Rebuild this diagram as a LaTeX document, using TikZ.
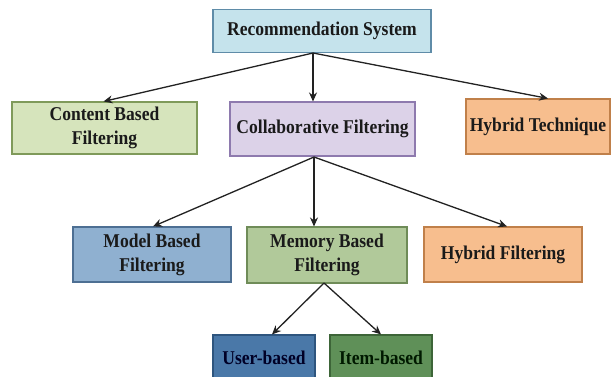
\documentclass[tikz,border=0pt]{standalone}
\usepackage{fontspec}
\setmainfont{Liberation Serif}[FakeStretch=0.9]
\usetikzlibrary{arrows.meta}
\definecolor{rsfill}{HTML}{C5E3EC}\definecolor{rsdraw}{HTML}{5F8CA8}
\definecolor{cbfill}{HTML}{D6E4BC}\definecolor{cbdraw}{HTML}{7F9A5A}
\definecolor{cffill}{HTML}{DCD2E8}\definecolor{cfdraw}{HTML}{8E7AAE}
\definecolor{orfill}{HTML}{F7BE8E}\definecolor{ordraw}{HTML}{C0804A}
\definecolor{mbfill}{HTML}{8FB0D0}\definecolor{mbdraw}{HTML}{4D6F93}
\definecolor{mmfill}{HTML}{B1C99A}\definecolor{mmdraw}{HTML}{6F8C58}
\definecolor{ubfill}{HTML}{4A78A8}\definecolor{ubdraw}{HTML}{2E557E}
\definecolor{ibfill}{HTML}{5F9058}\definecolor{ibdraw}{HTML}{3D6538}
\definecolor{txt}{HTML}{1A1A1A}
\definecolor{arr}{HTML}{222222}
\begin{document}
\begin{tikzpicture}[x=1pt,y=-1pt,
  box/.style={draw, line width=1.1pt, text=txt, align=center, inner sep=0pt,
    font=\fontsize{19.5}{24}\selectfont\bfseries},
  conn/.style={draw=arr, line width=1.3pt, -{Stealth[length=9pt,width=8pt]}}]
\useasboundingbox (0,0) rectangle (612,376);
\fill[white] (0,0) rectangle (612,376);
\node[box, fill=rsfill, draw=rsdraw, minimum width=218pt, minimum height=43pt] (rs) at (322,31) {Recommendation System};
\node[box, fill=cbfill, draw=cbdraw, minimum width=185pt, minimum height=52pt] (cbf) at (104.5,128) {Content Based\\Filtering};
\node[box, fill=cffill, draw=cfdraw, minimum width=185pt, minimum height=54pt] (cf) at (322.5,129) {Collaborative Filtering};
\node[box, fill=orfill, draw=ordraw, minimum width=144pt, minimum height=55pt] (ht) at (538,126.5) {Hybrid Technique};
\node[box, fill=mbfill, draw=mbdraw, minimum width=158pt, minimum height=55pt] (mbf) at (152,254.5) {Model Based\\Filtering};
\node[box, fill=mmfill, draw=mmdraw, minimum width=160pt, minimum height=56pt] (mem) at (327,255) {Memory Based\\Filtering};
\node[box, fill=orfill, draw=ordraw, minimum width=158pt, minimum height=55pt] (hf) at (503,254.5) {Hybrid Filtering};
\node[box, fill=ubfill, draw=ubdraw, minimum width=102pt, minimum height=46pt, text=black!85!blue] (ub) at (264,358) {User-based};
\node[box, fill=ibfill, draw=ibdraw, minimum width=102pt, minimum height=46pt, text=black!90!green] (ib) at (381,358) {Item-based};
\coordinate (s1) at (313,53);
\coordinate (s2) at (314,157);
\coordinate (s3) at (324,283);
\draw[conn] (s1) -- ([xshift=-1pt]cbf.north);
\draw[conn] (s1) -- (s1 |- cf.north);
\draw[conn] (s1) -- ([xshift=10pt]ht.north);
\draw[conn] (s2) -- ([xshift=1pt]mbf.north);
\draw[conn] (s2) -- (s2 |- mem.north);
\draw[conn] (s2) -- ([xshift=4pt]hf.north);
\draw[conn] (s3) -- ([xshift=8pt]ub.north);
\draw[conn] (s3) -- (ib.north);
\end{tikzpicture}
\end{document}
